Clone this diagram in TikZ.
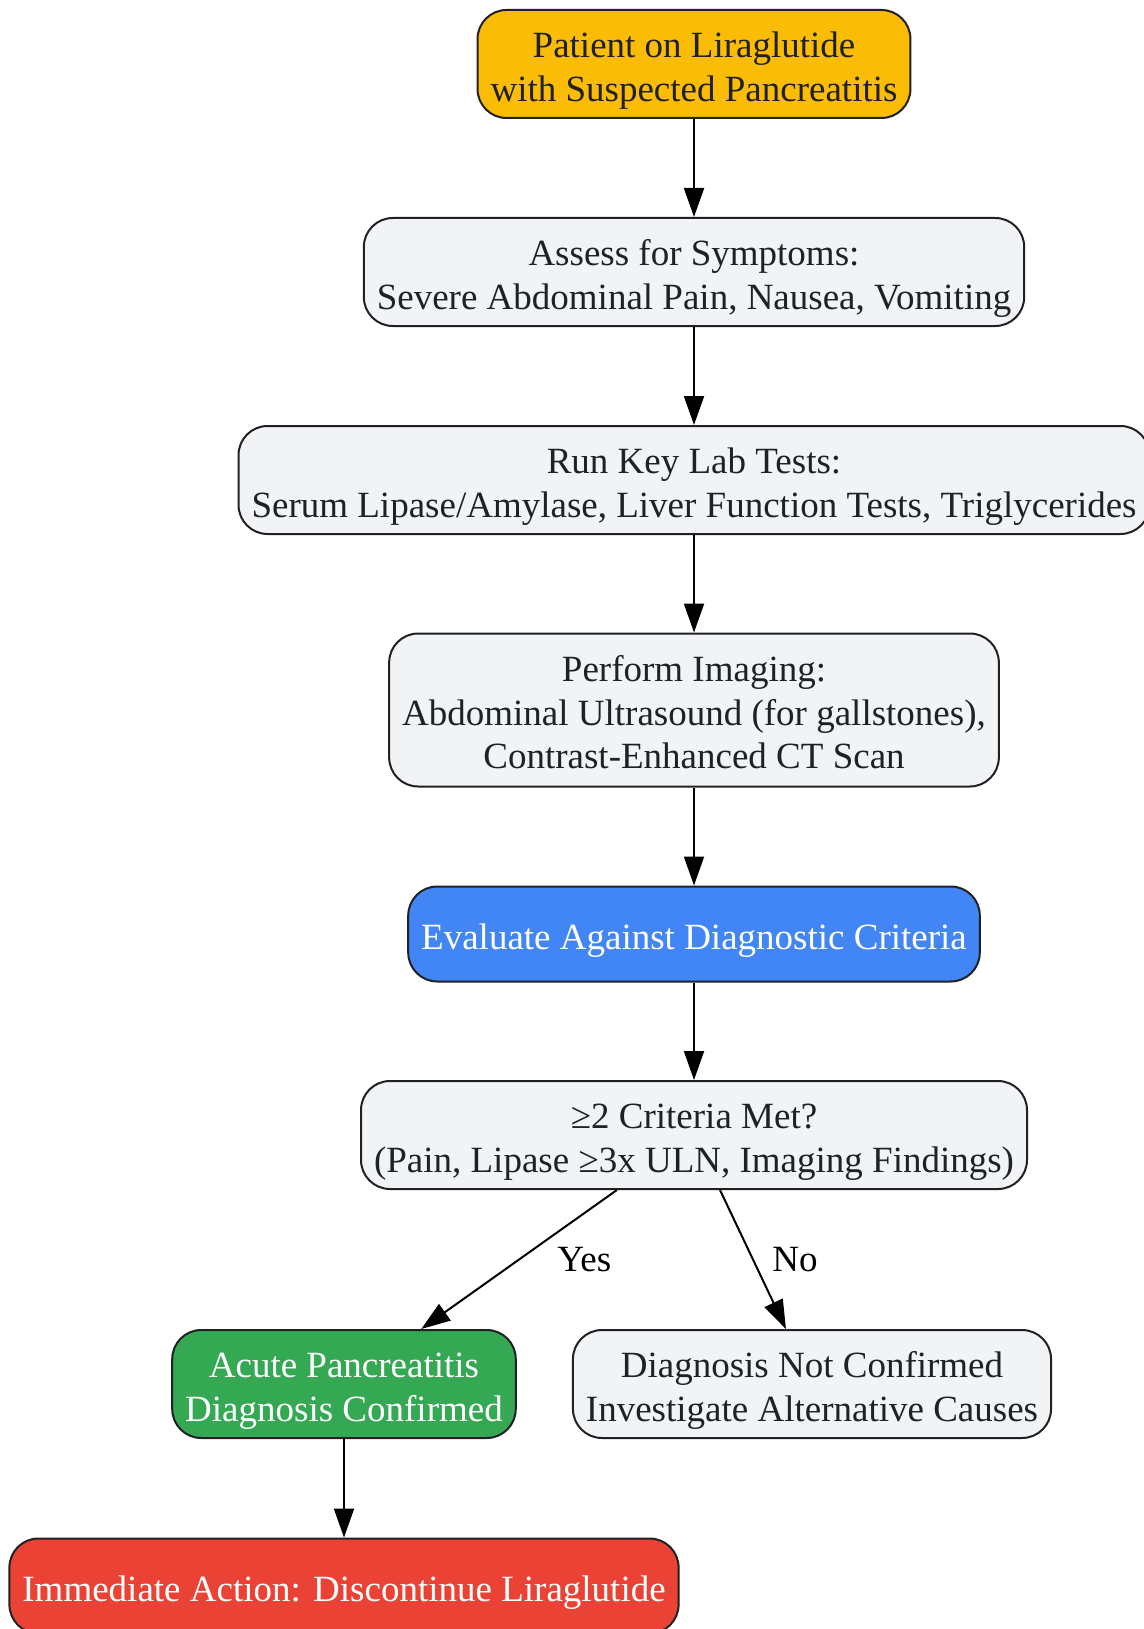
\documentclass[tikz,border=0pt]{standalone}
\usepackage{fontspec}
\setmainfont{Liberation Serif}
\usetikzlibrary{arrows.meta}
\definecolor{darktext}{HTML}{202124}
\definecolor{startfill}{HTML}{FBBC05}
\definecolor{stepfill}{HTML}{F1F3F4}
\definecolor{evalfill}{HTML}{4285F4}
\definecolor{yesfill}{HTML}{34A853}
\definecolor{actionfill}{HTML}{EA4335}
\tikzstyle{arrow} = [line width=2pt,-{Triangle[length=29pt,width=20pt]}]
\tikzstyle{box} = [draw=darktext, line width=2pt, rounded corners=29pt, align=center, inner xsep=13pt, text=darktext, font=\fontsize{37}{43.5}\selectfont, fill=stepfill]

\begin{document}
\begin{tikzpicture}[
            x=1pt, y=-1pt,
            oneline/.style={minimum height=95pt, text height=38pt},
            twoline/.style={minimum height=108pt, text height=82pt},
            threeline/.style={minimum height=153pt, text height=117.5pt},
            lbl/.style={font=\fontsize{37}{43.5}\selectfont, text=black}
        ]
            \useasboundingbox (0,0) rectangle (1143,1629);
            \node[box, twoline, fill=startfill] (start) at (694,64) {Patient on Liraglutide\\with Suspected Pancreatitis};
            \node[box, twoline] (symptoms) at (694,272) {Assess for Symptoms:\\Severe Abdominal Pain, Nausea, Vomiting};
            \node[box, twoline] (labs) at (694,480) {Run Key Lab Tests:\\Serum Lipase/Amylase, Liver Function Tests, Triglycerides};
            \node[box, threeline] (imaging) at (694,710) {Perform Imaging:\\Abdominal Ultrasound (for gallstones),\\Contrast-Enhanced CT Scan};
            \node[box, oneline, fill=evalfill, text=white] (evaluate) at (694,934) {Evaluate Against Diagnostic Criteria};
            \node[box, twoline] (criteria) at (694,1135) {≥2 Criteria Met?\\(Pain, Lipase ≥3x ULN, Imaging Findings)};
            \node[box, twoline, fill=yesfill, text=white] (confirmed) at (344,1384) {Acute Pancreatitis\\Diagnosis Confirmed};
            \node[box, twoline] (notconfirmed) at (812,1384) {Diagnosis Not Confirmed\\Investigate Alternative Causes};
            \node[box, oneline, fill=actionfill, text=white] (discontinue) at (344,1586) {Immediate Action: Discontinue Liraglutide};

            \draw[arrow] (start) -- (symptoms);
            \draw[arrow] (symptoms) -- (labs);
            \draw[arrow] (labs) -- (imaging);
            \draw[arrow] (imaging) -- (evaluate);
            \draw[arrow] (evaluate) -- (criteria);
            \draw[arrow] (criteria) -- node[lbl, right, xshift=34pt] {Yes} (confirmed);
            \draw[arrow] (criteria) -- node[lbl, right, xshift=15pt] {No} (notconfirmed);
            \draw[arrow] (confirmed) -- (discontinue);
        \end{tikzpicture}
\end{document}
